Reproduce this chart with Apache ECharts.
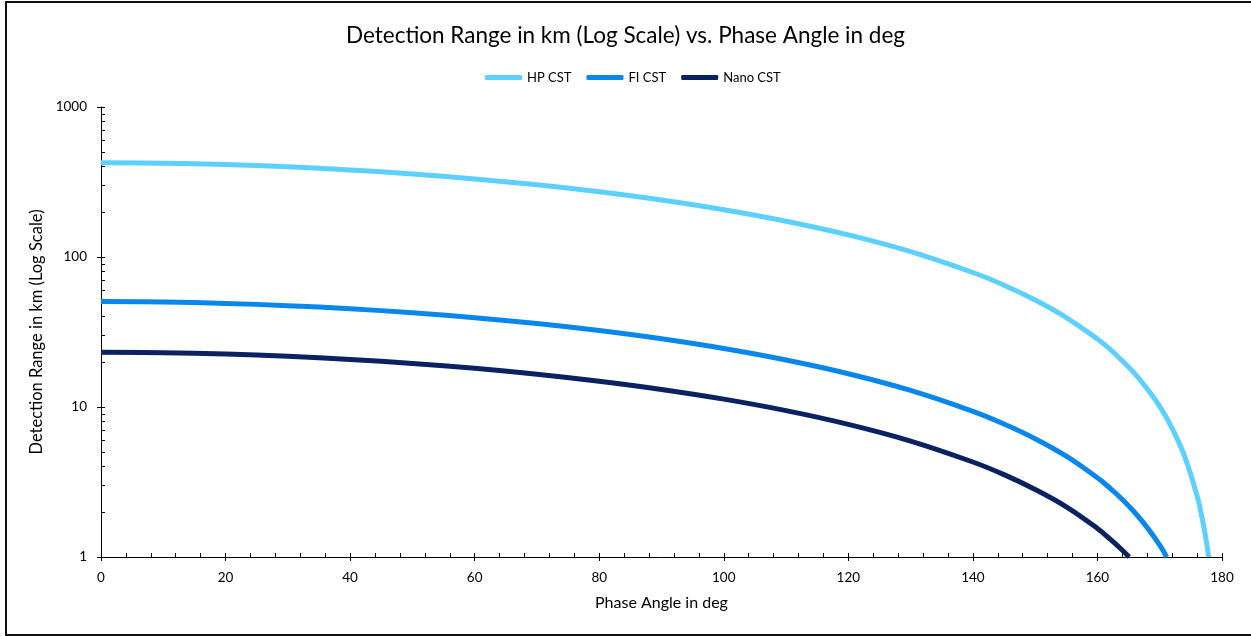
<!DOCTYPE html>
<html>
<head>
<meta charset="utf-8">
<script src="https://cdn.jsdelivr.net/npm/echarts@6/dist/echarts.min.js"></script>
<style>
  html, body { margin: 0; padding: 0; background: #fff; }
  #chart { position: absolute; left: 0; top: 0; width: 1251px; height: 636px; }
  #frame { position: absolute; left: 5px; top: 1px; width: 1300px; height: 631px; border: 2px solid #111; pointer-events: none; }
</style>
</head>
<body>
<div id="chart"></div>
<div id="frame"></div>
<script>
// ---- data ----
const titleText = 'Detection Range in km (Log Scale) vs. Phase Angle in deg';
const xName = 'Phase Angle in deg';
const yName = 'Detection Range in km (Log Scale)';
const seriesNames = ['HP CST', 'FI CST', 'Nano CST'];

const hpAngle   = [0, 10, 20, 30, 40, 50, 60, 70, 80, 90, 100, 110, 120, 130, 140, 145, 150, 155, 160, 162, 164, 166, 168, 170, 172, 174, 176, 177, 177.5, 177.86];
const hpRange   = [425, 421.9, 413.0, 398.9, 380.2, 357.6, 331.7, 303.0, 272.1, 239.8, 206.6, 173.2, 140.3, 108.6, 78.8, 64.9, 51.7, 39.5, 28.4, 24.3, 20.3, 16.7, 13.2, 10.1, 7.2, 4.69, 2.55, 1.66, 1.26, 1];

const fiAngle   = [0, 10, 20, 30, 40, 50, 60, 70, 80, 90, 100, 110, 120, 130, 140, 145, 150, 155, 160, 162, 164, 166, 168, 170, 171.12];
const fiRange   = [50.5, 50.13, 49.07, 47.40, 45.18, 42.49, 39.41, 36.00, 32.33, 28.49, 24.55, 20.58, 16.67, 12.90, 9.36, 7.71, 6.15, 4.70, 3.37, 2.88, 2.42, 1.98, 1.57, 1.20, 1];

const nanoAngle = [0, 10, 20, 30, 40, 50, 60, 70, 80, 90, 100, 110, 120, 130, 140, 145, 150, 155, 160, 162, 164, 165.09];
const nanoRange = [23.2, 23.03, 22.54, 21.77, 20.76, 19.52, 18.10, 16.54, 14.85, 13.09, 11.28, 9.46, 7.66, 5.93, 4.30, 3.54, 2.82, 2.16, 1.55, 1.32, 1.11, 1];

const colors = ['#5CD0FF', '#0A87EA', '#0B2161'];

const pairs = (xs, ys) => xs.map((x, i) => [x, ys[i]]);
const FONT = 'Lato';

const chart = echarts.init(document.getElementById('chart'), null, { renderer: 'canvas' });
const axisLineStyle = { color: '#000', width: 1 };

chart.setOption({
  animation: false,
  backgroundColor: '#fff',
  title: {
    text: titleText, left: 'center', top: 19,
    textStyle: { fontFamily: FONT, fontSize: 22.5, fontWeight: 'normal', color: '#000' }
  },
  legend: {
    top: 66, left: 480, icon: 'roundRect', itemWidth: 37, itemHeight: 5, itemGap: 15,
    textStyle: { fontFamily: FONT, fontSize: 13, color: '#000' },
    data: seriesNames
  },
  grid: { left: 101, right: 29, top: 107, bottom: 79, containLabel: false },
  xAxis: [
    {
      type: 'value', min: 0, max: 180, interval: 20,
      name: xName, nameLocation: 'middle', nameGap: 38,
      nameTextStyle: { fontFamily: FONT, fontSize: 16, color: '#000' },
      axisLine: { show: true, lineStyle: axisLineStyle },
      axisTick: { show: true, inside: false, length: 4, lineStyle: axisLineStyle },
      axisLabel: { fontFamily: FONT, fontSize: 13.5, color: '#000', margin: 14 },
      splitLine: { show: false }
    },
    {
      type: 'value', min: 0, max: 180, interval: 20, position: 'bottom',
      axisLine: { show: false },
      axisTick: { show: true, inside: true, length: 4, lineStyle: axisLineStyle },
      minorTick: { show: true, splitNumber: 5, length: 4, lineStyle: axisLineStyle },
      axisLabel: { show: false },
      splitLine: { show: false }
    }
  ],
  yAxis: [
    {
      type: 'log', logBase: 10, min: 1, max: 1000,
      name: yName, nameLocation: 'middle', nameGap: 53,
      nameTextStyle: { fontFamily: FONT, fontSize: 16.5, color: '#000' },
      axisLine: { show: true, lineStyle: axisLineStyle },
      axisTick: { show: true, inside: false, length: 4, lineStyle: axisLineStyle },
      axisLabel: { fontFamily: FONT, fontSize: 13.5, color: '#000', margin: 14, formatter: v => String(Math.round(v)) },
      splitLine: { show: false }
    },
    {
      type: 'log', logBase: 10, min: 1, max: 1000, position: 'left',
      axisLine: { show: false },
      axisTick: { show: true, inside: true, length: 4, lineStyle: axisLineStyle },
      minorTick: { show: true, splitNumber: 9, length: 4, lineStyle: axisLineStyle },
      axisLabel: { show: false },
      splitLine: { show: false }
    }
  ],
  series: [
    { name: seriesNames[0], type: 'line', data: pairs(hpAngle, hpRange) },
    { name: seriesNames[1], type: 'line', data: pairs(fiAngle, fiRange) },
    { name: seriesNames[2], type: 'line', data: pairs(nanoAngle, nanoRange) }
  ].map((s, i) => Object.assign(s, {
    xAxisIndex: 0, yAxisIndex: 0, smooth: 0.4, showSymbol: false, symbol: 'none',
    color: colors[i], lineStyle: { color: colors[i], width: 5, cap: 'butt' }, clip: true
  }))
});
</script>
</body>
</html>
